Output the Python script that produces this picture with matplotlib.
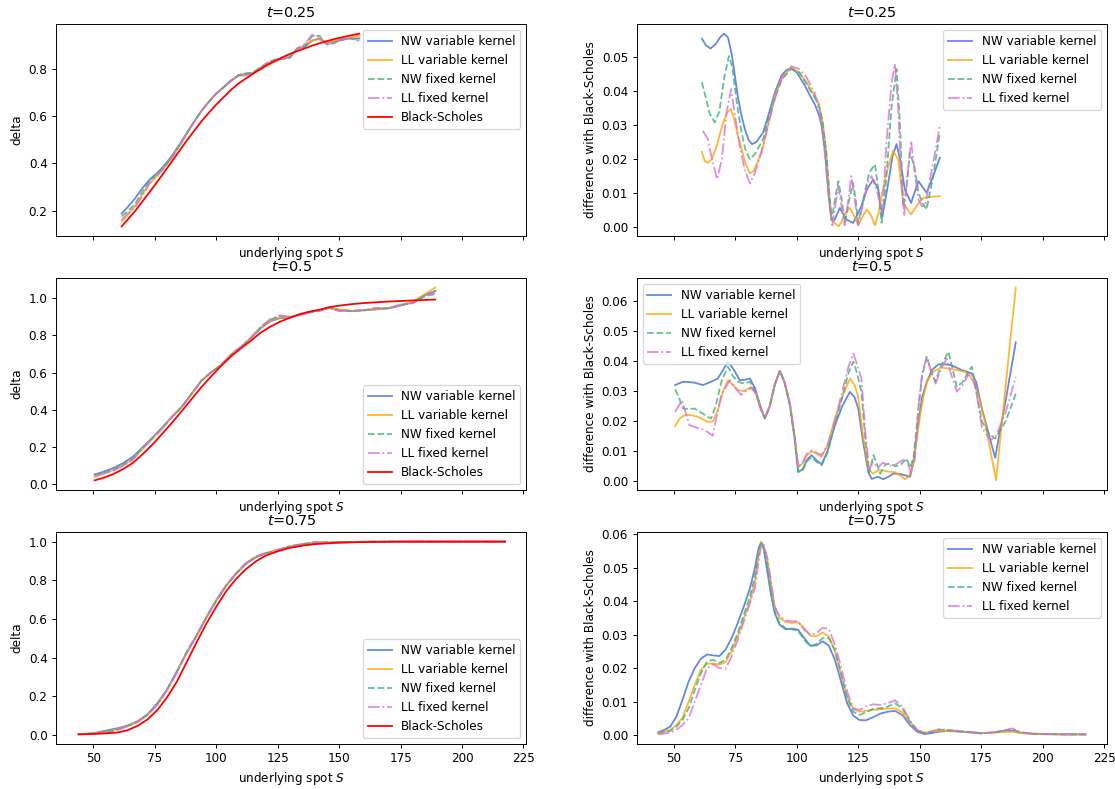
import matplotlib
matplotlib.use("Agg")
import matplotlib.pyplot as plt

labels = ["NW variable kernel", "LL variable kernel", "NW fixed kernel", "LL fixed kernel", "Black-Scholes"]
colors = ["royalblue", "orange", "mediumseagreen", "orchid", "red"]
styles = ["-", "-", "--", "-.", "-"]
titles = ["$t$=0.25", "$t$=0.5", "$t$=0.75"]

# ---------------- left column: delta ----------------
s1_left = [61.5, 64, 67, 70, 73, 76, 79, 82, 85, 88, 91, 94, 97, 100, 103, 106, 109, 112, 115, 118,
           121, 124, 127, 130, 133, 136, 139, 142, 145, 148, 151, 154, 158.2]
bs1 = [0.133, 0.162, 0.198, 0.239, 0.280, 0.322, 0.365, 0.409, 0.453, 0.497, 0.538, 0.579, 0.615, 0.650,
       0.681, 0.712, 0.739, 0.760, 0.781, 0.800, 0.820, 0.835, 0.851, 0.865, 0.877, 0.888, 0.900, 0.910,
       0.919, 0.928, 0.935, 0.942, 0.951]
nwv1 = [0.188, 0.215, 0.252, 0.296, 0.333, 0.360, 0.393, 0.433, 0.479, 0.529, 0.577, 0.624, 0.662, 0.696,
        0.723, 0.750, 0.772, 0.779, 0.783, 0.805, 0.822, 0.838, 0.844, 0.852, 0.888, 0.895, 0.921, 0.930,
        0.910, 0.918, 0.923, 0.930, 0.931]
llv1 = [0.155, 0.181, 0.221, 0.270, 0.315, 0.349, 0.384, 0.425, 0.474, 0.526, 0.577, 0.623, 0.662, 0.697,
        0.725, 0.752, 0.775, 0.782, 0.783, 0.801, 0.815, 0.833, 0.847, 0.861, 0.880, 0.902, 0.922, 0.927,
        0.914, 0.922, 0.927, 0.933, 0.942]
nwf1 = [0.176, 0.197, 0.229, 0.281, 0.329, 0.356, 0.388, 0.429, 0.478, 0.528, 0.576, 0.6225, 0.661, 0.696,
        0.724, 0.751, 0.775, 0.782, 0.787, 0.809, 0.827, 0.842, 0.843, 0.848, 0.889, 0.899, 0.940, 0.942,
        0.904, 0.910, 0.928, 0.932, 0.923]
llf1 = [0.161, 0.188, 0.214, 0.262, 0.320, 0.349, 0.382, 0.423, 0.474, 0.526, 0.576, 0.623, 0.662, 0.697,
        0.726, 0.753, 0.773, 0.773, 0.782, 0.806, 0.830, 0.842, 0.844, 0.850, 0.888, 0.908, 0.946, 0.936,
        0.905, 0.912, 0.929, 0.931, 0.921]

s2_left = [50.5, 54, 58, 62, 66, 70, 74, 78, 82, 86, 90, 94, 98, 102, 106, 110, 114, 118, 122, 126,
           130, 134, 138, 142, 146, 150, 155, 160, 165, 170, 175, 180, 185, 189.1]
bs2 = [0.020, 0.033, 0.053, 0.080, 0.113, 0.160, 0.212, 0.270, 0.330, 0.393, 0.458, 0.522, 0.581, 0.636,
       0.687, 0.730, 0.770, 0.814, 0.847, 0.874, 0.895, 0.914, 0.928, 0.938, 0.952, 0.960, 0.968, 0.974,
       0.978, 0.982, 0.985, 0.988, 0.991, 0.993]
nwv2 = [0.052, 0.066, 0.086, 0.112, 0.1465, 0.197, 0.249, 0.304, 0.363, 0.416, 0.486, 0.557, 0.602, 0.640,
        0.696, 0.736, 0.784, 0.838, 0.876, 0.893, 0.896, 0.913, 0.926, 0.936, 0.950, 0.938, 0.931, 0.935,
        0.940, 0.946, 0.960, 0.978, 1.018, 1.039]
llv2 = [0.038, 0.055, 0.075, 0.1005, 0.133, 0.190, 0.244, 0.300, 0.361, 0.416, 0.486, 0.557, 0.603, 0.642,
        0.697, 0.738, 0.786, 0.841, 0.881, 0.897, 0.898, 0.910, 0.925, 0.936, 0.946, 0.939, 0.932, 0.936,
        0.941, 0.947, 0.961, 0.983, 1.023, 1.057]
nwf2 = [0.051, 0.057, 0.077, 0.102, 0.136, 0.195, 0.247, 0.303, 0.361, 0.416, 0.486, 0.557, 0.602, 0.640,
        0.695, 0.735, 0.785, 0.842, 0.885, 0.904, 0.899, 0.911, 0.922, 0.933, 0.947, 0.932, 0.932, 0.934,
        0.946, 0.945, 0.965, 0.974, 1.011, 1.022]
llf2 = [0.043, 0.058, 0.071, 0.097, 0.129, 0.190, 0.244, 0.299, 0.360, 0.416, 0.486, 0.557, 0.603, 0.642,
        0.697, 0.739, 0.787, 0.844, 0.889, 0.908, 0.9005, 0.9085, 0.9225, 0.9315, 0.949, 0.931, 0.931, 0.937,
        0.948, 0.946, 0.967, 0.9735, 1.014, 1.028]

s3_left = [44, 50, 56, 60, 64, 68, 72, 76, 80, 84, 88, 92, 96, 100, 104, 108, 112, 116, 120, 125,
           130, 135, 140, 150, 160, 175, 190, 205, 217.5]
bs3 = [0.003, 0.005, 0.009, 0.013, 0.025, 0.047, 0.080, 0.128, 0.195, 0.276, 0.377, 0.479, 0.576, 0.663,
       0.743, 0.806, 0.857, 0.897, 0.927, 0.950, 0.968, 0.979, 0.987, 0.995, 0.998, 1.0, 1.0, 1.0, 1.0]
nwv3 = [0.004, 0.009, 0.025, 0.035, 0.049, 0.071, 0.107, 0.163, 0.236, 0.330, 0.426, 0.513, 0.608, 0.695,
        0.771, 0.833, 0.884, 0.918, 0.938, 0.955, 0.973, 0.986, 0.994, 0.996, 0.999, 1.0, 1.0, 1.0, 1.0]
llv3 = [0.004, 0.0075, 0.019, 0.031, 0.046, 0.068, 0.103, 0.157, 0.233, 0.326, 0.4295, 0.515, 0.610, 0.697,
        0.774, 0.836, 0.887, 0.921, 0.940, 0.957, 0.9755, 0.987, 0.995, 0.996, 0.999, 1.0, 1.0, 1.0, 1.0]
nwf3 = [0.004, 0.007, 0.017, 0.029, 0.047, 0.0685, 0.104, 0.158, 0.234, 0.327, 0.428, 0.5135, 0.608, 0.694,
        0.771, 0.8335, 0.886, 0.921, 0.9395, 0.956, 0.9756, 0.987, 0.9965, 0.9958, 0.9995, 1.0, 1.0, 1.0, 1.0]
llf3 = [0.003, 0.0063, 0.014, 0.026, 0.045, 0.067, 0.101, 0.156, 0.232, 0.321, 0.430, 0.516, 0.6105, 0.697,
        0.774, 0.836, 0.889, 0.923, 0.9415, 0.958, 0.977, 0.988, 0.997, 0.996, 1.0, 1.0, 1.0, 1.0, 1.0]

# ---------------- right column: difference with Black-Scholes ----------------
# t = 0.25
s1_nwv = [61.4, 63, 64.9, 67, 68.8, 70.4, 72, 73.5, 74.8, 76, 77.5, 79, 80.5, 81.8, 83.5, 86.3, 88.5, 91.1,
          93.8, 95.8, 97.6, 100, 103.3, 105.5, 107.4, 109, 110.1, 111.5, 113, 114.2, 115.3, 117.5, 120.2,
          122.9, 126.3, 128.5, 131.1, 133.2, 134.8, 137, 139, 140.6, 142, 144, 146.5, 149.5, 152.8, 155.5, 158.2]
d1_nwv = [0.0554, 0.0535, 0.0525, 0.0538, 0.0558, 0.0569, 0.0558, 0.0510, 0.0446, 0.0385, 0.0328, 0.0285,
          0.0255, 0.0244, 0.0250, 0.0278, 0.0330, 0.0396, 0.0446, 0.0462, 0.0467, 0.0455, 0.0416, 0.0385,
          0.0360, 0.0330, 0.0300, 0.0220, 0.0090, 0.0020, 0.0020, 0.0056, 0.0022, 0.0012, 0.0061, 0.0110,
          0.0140, 0.0110, 0.0030, 0.0120, 0.0210, 0.0244, 0.0200, 0.0110, 0.0071, 0.0135, 0.0101, 0.0150, 0.0204]
s1_llv = [61.4, 62.5, 63.8, 65.5, 67.5, 69.5, 71.5, 73.1, 74.5, 76, 77.5, 79, 80.9, 82.5, 84.5, 86.3, 88.5,
          91.1, 94, 97.8, 101, 104, 106.5, 108.8, 110.5, 112, 113.2, 114.3, 115.5, 116.9, 118.2, 119.5, 121.6,
          123.5, 125, 126.7, 128.4, 130.2, 131.8, 133.2, 134.5, 136.5, 139.2, 141.3, 143.3, 146.5, 149, 151.5,
          155, 158.2]
d1_llv = [0.0221, 0.0195, 0.0189, 0.0200, 0.0240, 0.0295, 0.0335, 0.0347, 0.0320, 0.0270, 0.0232, 0.0190,
          0.0158, 0.0165, 0.0200, 0.0238, 0.0305, 0.0387, 0.0440, 0.0470, 0.0455, 0.0426, 0.0395, 0.0367,
          0.0310, 0.0220, 0.0100, 0.0020, 0.0012, 0.0002, 0.0015, 0.0040, 0.0056, 0.0030, 0.0005, 0.0030,
          0.0052, 0.0035, 0.0005, 0.0040, 0.0091, 0.0160, 0.0224, 0.0199, 0.0071, 0.0037, 0.0065, 0.0086,
          0.0089, 0.0091]
s1_nwf = [61.4, 63, 64.5, 66.6, 68.5, 70.5, 72.4, 73.8, 75, 76.2, 77.5, 79, 80.9, 83, 86.3, 88.5, 91.1, 94,
          97.8, 101, 104, 106.5, 108.8, 110.5, 112, 113.2, 114.2, 115.5, 116.9, 118.3, 119.6, 121.3, 122.9, 124,
          125, 127, 129.5, 131.8, 133.2, 134.5, 136.5, 138.5, 140.6, 142, 143.3, 144.7, 146, 147.8, 149.5,
          151.2, 152.8, 155.5, 158.2]
d1_nwf = [0.0426, 0.0380, 0.0335, 0.0308, 0.0340, 0.0440, 0.0503, 0.0470, 0.0400, 0.0337, 0.0280, 0.0230,
          0.0199, 0.0215, 0.0258, 0.0320, 0.0380, 0.0435, 0.0465, 0.0455, 0.0420, 0.0390, 0.0362, 0.0310,
          0.0220, 0.0100, 0.0020, 0.0080, 0.0135, 0.0080, 0.0012, 0.0080, 0.0130, 0.0080, 0.0012, 0.0080,
          0.0160, 0.0185, 0.0110, 0.0012, 0.0150, 0.0350, 0.0465, 0.0300, 0.0060, 0.0120, 0.0219, 0.0180,
          0.0101, 0.0070, 0.0052, 0.0150, 0.0278]
s1_llf = [61.8, 63.8, 65.5, 67.6, 69.5, 71.5, 73.3, 74.8, 76.8, 78.8, 80.9, 83, 85.6, 88, 91.1, 94, 97.8, 101,
          104, 107.3, 109.5, 111, 112.5, 113.5, 114.5, 115.8, 116.9, 118.2, 119.5, 120.8, 122.2, 123.6, 125,
          127, 128.8, 130.4, 132.5, 134.8, 136.5, 138.5, 139.9, 141.2, 142.5, 143.7, 145, 146.5, 148, 149.5,
          151, 152.2, 155, 158.2]
d1_llf = [0.0283, 0.0259, 0.0200, 0.0140, 0.0200, 0.0340, 0.0406, 0.0330, 0.0239, 0.0170, 0.0128, 0.0160,
          0.0219, 0.0290, 0.0377, 0.0440, 0.0473, 0.0465, 0.0440, 0.0395, 0.0330, 0.0250, 0.0130, 0.0050,
          0.0005, 0.0070, 0.0120, 0.0060, 0.0005, 0.0070, 0.0150, 0.0080, 0.0005, 0.0070, 0.0130, 0.0150,
          0.0110, 0.0042, 0.0250, 0.0420, 0.0480, 0.0360, 0.0150, 0.0032, 0.0150, 0.0254, 0.0160, 0.0081,
          0.0061, 0.0061, 0.0170, 0.0298]

# t = 0.5
s2_nwv = [50.5, 53.7, 56, 58.4, 61.8, 65.2, 67.9, 70, 72, 74.5, 76.8, 79, 80.9, 83, 85, 87, 89, 91, 93.1, 95,
          97.2, 99, 100.6, 102.5, 104, 106, 108, 110.1, 112.5, 115.5, 118.5, 121.6, 123.5, 125, 127, 129.1,
          130.5, 133, 135.2, 137.3, 139.3, 141.5, 144, 146.1, 147.8, 149.5, 151, 152.9, 155, 157.6, 160, 162.4,
          165, 167.1, 169, 171.2, 173, 175.3, 178, 180.7, 185, 189.1]
d2_nwv = [0.0320, 0.0331, 0.0330, 0.0328, 0.0320, 0.0331, 0.0342, 0.0370, 0.0398, 0.0370, 0.0336, 0.0338,
          0.0342, 0.0310, 0.0255, 0.0209, 0.0250, 0.0320, 0.0367, 0.0330, 0.0253, 0.0150, 0.0031, 0.0040,
          0.0070, 0.0087, 0.0070, 0.0056, 0.0100, 0.0186, 0.0250, 0.0297, 0.0280, 0.0242, 0.0130, 0.0030,
          0.0008, 0.0015, 0.0007, 0.0015, 0.0025, 0.0025, 0.0020, 0.0015, 0.0080, 0.0197, 0.0280, 0.0331,
          0.0370, 0.0389, 0.0389, 0.0387, 0.0378, 0.0370, 0.0365, 0.0359, 0.0330, 0.0242, 0.0160, 0.0078,
          0.0270, 0.0462]
s2_llv = [50.5, 52.5, 54.4, 57, 60, 63.8, 66, 68, 70, 72, 74, 76.1, 78.5, 81.5, 83.5, 85.5, 87, 89, 91, 93.1,
          95, 97.2, 99, 100.6, 102.5, 104, 106, 108, 110.1, 112.5, 115.5, 118.5, 121.6, 123.5, 125, 127, 129.1,
          131, 133, 135.2, 137.5, 140, 142, 144, 145.5, 147, 148.5, 150.2, 151.5, 153, 155.5, 158.9, 162, 165,
          168.5, 170.5, 172.5, 174.5, 176.6, 178.8, 181.1, 185, 189.1]
d2_llv = [0.0184, 0.0210, 0.0220, 0.0220, 0.0214, 0.0197, 0.0200, 0.0240, 0.0300, 0.0336, 0.0320, 0.0303,
          0.0300, 0.0314, 0.0290, 0.0240, 0.0209, 0.0250, 0.0320, 0.0367, 0.0330, 0.0260, 0.0160, 0.0047,
          0.0060, 0.0085, 0.0100, 0.0092, 0.0081, 0.0120, 0.0209, 0.0280, 0.0342, 0.0320, 0.0281, 0.0150,
          0.0042, 0.0025, 0.0036, 0.0036, 0.0032, 0.0030, 0.0020, 0.0007, 0.0015, 0.0047, 0.0120, 0.0220,
          0.0280, 0.0331, 0.0365, 0.0378, 0.0375, 0.0370, 0.0364, 0.0350, 0.0320, 0.0270, 0.0197, 0.0100,
          0.0003, 0.0320, 0.0644]
s2_nwf = [50.5, 52, 53.7, 56, 58.4, 61.8, 63.5, 65.2, 67, 69.3, 72, 74, 76.1, 78.5, 80.9, 83, 85, 87, 89, 91,
          93.1, 95, 97.2, 99, 100.6, 102.5, 104, 106, 108, 110.1, 112.5, 115.5, 118.5, 121, 123, 124.5, 126.3,
          128, 129.5, 131.2, 132.5, 133.9, 136, 138, 140, 142, 144.7, 146.2, 147.5, 149.5, 151, 152.9, 154.5,
          156.3, 158.5, 161.7, 163.5, 165.1, 167.5, 169.5, 171.2, 173, 175.3, 178, 180.7, 185, 189.1]
d2_nwf = [0.0306, 0.0280, 0.0242, 0.0240, 0.0242, 0.0225, 0.0215, 0.0209, 0.0250, 0.0331, 0.0381, 0.0350,
          0.0331, 0.0325, 0.0331, 0.0300, 0.0250, 0.0209, 0.0250, 0.0320, 0.0367, 0.0330, 0.0253, 0.0150,
          0.0031, 0.0040, 0.0065, 0.0080, 0.0065, 0.0053, 0.0095, 0.0190, 0.0280, 0.0360, 0.0398, 0.0360,
          0.0297, 0.0130, 0.0030, 0.0087, 0.0060, 0.0025, 0.0055, 0.0059, 0.0050, 0.0053, 0.0075, 0.0045,
          0.0080, 0.0242, 0.0350, 0.0414, 0.0370, 0.0331, 0.0380, 0.0431, 0.0370, 0.0314, 0.0330, 0.0360,
          0.0381, 0.0300, 0.0200, 0.0160, 0.0142, 0.0200, 0.0291]
s2_llf = [50.5, 53.3, 56.3, 58.5, 61.1, 63.5, 65.8, 67.5, 69.3, 72.7, 75, 77.4, 80, 81.5, 83.5, 85, 87, 89, 91,
          93.1, 95, 97.2, 99, 100.6, 102.5, 104, 106, 108, 110.1, 112.5, 115.5, 118.5, 121, 123, 124.5, 126.3,
          128, 129.5, 131, 133, 135, 137, 139, 141, 143, 144.5, 146.5, 148, 149.5, 151, 152.9, 154.5, 156.5,
          158.5, 161, 163, 165.1, 167.5, 169.5, 171, 173, 175.3, 178.7, 181, 185, 189.1]
d2_llf = [0.0231, 0.0270, 0.0187, 0.0180, 0.0175, 0.0165, 0.0151, 0.0220, 0.0287, 0.0336, 0.0310, 0.0287,
          0.0305, 0.0310, 0.0290, 0.0245, 0.0209, 0.0250, 0.0320, 0.0367, 0.0330, 0.0260, 0.0160, 0.0047,
          0.0065, 0.0090, 0.0103, 0.0095, 0.0087, 0.0120, 0.0200, 0.0300, 0.0380, 0.0425, 0.0390, 0.0342,
          0.0150, 0.0040, 0.0064, 0.0045, 0.0062, 0.0055, 0.0050, 0.0060, 0.0070, 0.0075, 0.0030, 0.0070,
          0.0250, 0.0360, 0.0414, 0.0370, 0.0325, 0.0370, 0.0408, 0.0350, 0.0298, 0.0320, 0.0350, 0.0364,
          0.0300, 0.0180, 0.0136, 0.0150, 0.0230, 0.0347]

# t = 0.75
s3_right = [43.5, 46, 48.5, 51, 53.5, 56, 58.5, 61, 63.5, 66, 68.5, 71, 73.5, 76, 78.5, 81, 83, 84.5, 85.5,
            86.5, 88, 89.5, 91, 93, 95.5, 98, 100.5, 103, 105.5, 108, 110.5, 113, 115.5, 118, 120.5, 123,
            125.5, 128, 131, 134, 137, 140, 143, 146, 149, 152, 155, 158, 161, 165, 170, 175, 180, 184, 187.5,
            191, 196, 202, 208, 214, 217.5]
d3_nwv = [0.0008, 0.0015, 0.0025, 0.0055, 0.0105, 0.0160, 0.0200, 0.0228, 0.0241, 0.0238, 0.0236, 0.0255,
          0.0290, 0.0335, 0.0385, 0.0440, 0.0500, 0.0560, 0.0575, 0.0558, 0.0490, 0.0420, 0.0365, 0.0330,
          0.0316, 0.0318, 0.0315, 0.0290, 0.0267, 0.0268, 0.0280, 0.0268, 0.0225, 0.0160, 0.0095, 0.0058,
          0.0045, 0.0044, 0.0053, 0.0064, 0.0070, 0.0072, 0.0060, 0.0030, 0.0010, 0.0003, 0.0006, 0.0010,
          0.0012, 0.0011, 0.0008, 0.0005, 0.0008, 0.0012, 0.0013, 0.0007, 0.0004, 0.0003, 0.0002, 0.0002, 0.0002]
d3_llv = [0.0007, 0.0010, 0.0015, 0.0030, 0.0052, 0.0100, 0.0150, 0.0195, 0.0213, 0.0214, 0.0210, 0.0218,
          0.0250, 0.0295, 0.0350, 0.0400, 0.0460, 0.0540, 0.0578, 0.0565, 0.0525, 0.0455, 0.0385, 0.0350,
          0.0338, 0.0335, 0.0337, 0.0320, 0.0297, 0.0295, 0.0306, 0.0295, 0.0250, 0.0180, 0.0115, 0.0078,
          0.0070, 0.0072, 0.0075, 0.0077, 0.0079, 0.0080, 0.0068, 0.0040, 0.0015, 0.0008, 0.0010, 0.0012,
          0.0012, 0.0011, 0.0009, 0.0006, 0.0007, 0.0009, 0.0010, 0.0006, 0.0003, 0.0002, 0.0002, 0.0002, 0.0002]
d3_nwf = [0.0006, 0.0008, 0.0012, 0.0025, 0.0045, 0.0080, 0.0135, 0.0185, 0.0220, 0.0225, 0.0215, 0.0225,
          0.0260, 0.0305, 0.0360, 0.0415, 0.0475, 0.0550, 0.0578, 0.0560, 0.0510, 0.0430, 0.0370, 0.0335,
          0.0318, 0.0316, 0.0312, 0.0285, 0.0265, 0.0272, 0.0290, 0.0290, 0.0255, 0.0185, 0.0110, 0.0070,
          0.0060, 0.0068, 0.0078, 0.0080, 0.0085, 0.0095, 0.0080, 0.0040, 0.0012, 0.0005, 0.0010, 0.0016,
          0.0015, 0.0012, 0.0009, 0.0005, 0.0008, 0.0013, 0.0018, 0.0008, 0.0004, 0.0003, 0.0002, 0.0002, 0.0002]
d3_llf = [0.0002, 0.0004, 0.0008, 0.0015, 0.0030, 0.0050, 0.0100, 0.0150, 0.0200, 0.0212, 0.0200, 0.0198,
          0.0235, 0.0285, 0.0340, 0.0395, 0.0440, 0.0520, 0.0565, 0.0572, 0.0530, 0.0460, 0.0385, 0.0355,
          0.0343, 0.0340, 0.0340, 0.0315, 0.0300, 0.0305, 0.0320, 0.0318, 0.0270, 0.0205, 0.0130, 0.0080,
          0.0075, 0.0085, 0.0092, 0.0090, 0.0095, 0.0104, 0.0085, 0.0045, 0.0015, 0.0006, 0.0012, 0.0018,
          0.0016, 0.0013, 0.0010, 0.0006, 0.0008, 0.0013, 0.0020, 0.0009, 0.0004, 0.0003, 0.0002, 0.0002, 0.0002]

left_data = [
    (s1_left, [nwv1, llv1, nwf1, llf1, bs1], "upper right"),
    (s2_left, [nwv2, llv2, nwf2, llf2, bs2], "lower right"),
    (s3_left, [nwv3, llv3, nwf3, llf3, bs3], "lower right"),
]
right_data = [
    ([(s1_nwv, d1_nwv), (s1_llv, d1_llv), (s1_nwf, d1_nwf), (s1_llf, d1_llf)], "upper right"),
    ([(s2_nwv, d2_nwv), (s2_llv, d2_llv), (s2_nwf, d2_nwf), (s2_llf, d2_llf)], "upper left"),
    ([(s3_right, d3_nwv), (s3_right, d3_llv), (s3_right, d3_nwf), (s3_right, d3_llf)], "upper right"),
]

DPI = 86.4
fig, axes = plt.subplots(3, 2, figsize=(1115 / DPI, 789 / DPI), dpi=DPI, sharex=True)
fig.subplots_adjust(left=0.0502, right=0.9928, top=0.9696, bottom=0.057, hspace=0.198, wspace=0.234)

for r in range(3):
    ax = axes[r, 0]
    s, ys, loc = left_data[r]
    for k, y in enumerate(ys):
        ax.plot(s, y, color=colors[k], linestyle=styles[k], label=labels[k],
                alpha=0.8 if k < 4 else 1.0, lw=1.5)
    ax.set_title(titles[r])
    ax.set_ylabel("delta")
    ax.set_xlabel("underlying spot $S$")
    ax.legend(loc=loc)

    ax = axes[r, 1]
    series, loc = right_data[r]
    for k, (s, d) in enumerate(series):
        ax.plot(s, d, color=colors[k], linestyle=styles[k], label=labels[k], alpha=0.8, lw=1.5)
    ax.set_title(titles[r])
    ax.set_ylabel("difference with Black-Scholes")
    ax.set_xlabel("underlying spot $S$")
    ax.legend(loc=loc)

axes[2, 0].set_xticks([50, 75, 100, 125, 150, 175, 200, 225])
axes[0, 0].set_yticks([0.2, 0.4, 0.6, 0.8])
axes[1, 0].set_yticks([0.0, 0.2, 0.4, 0.6, 0.8, 1.0])
axes[2, 0].set_yticks([0.0, 0.2, 0.4, 0.6, 0.8, 1.0])

fig.savefig("out.png", dpi=DPI)
